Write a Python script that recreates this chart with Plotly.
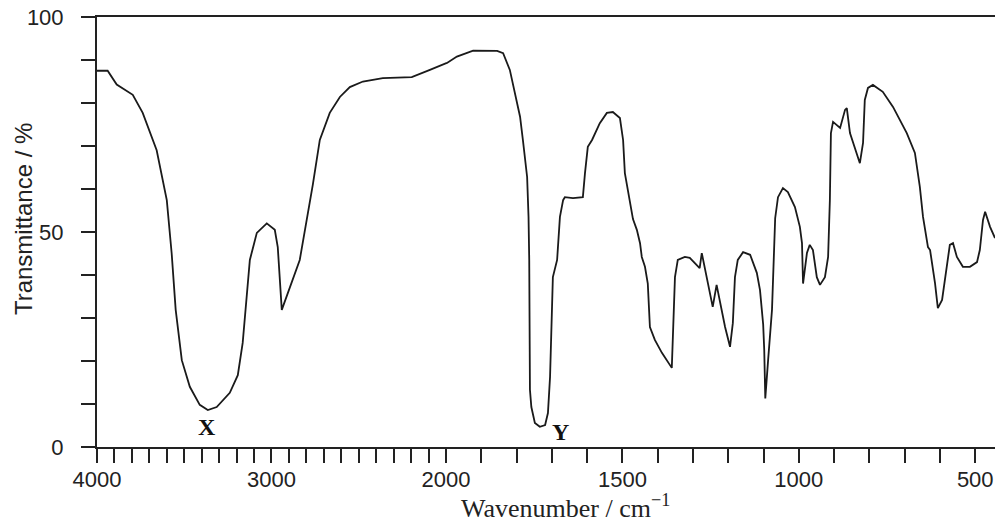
import plotly.graph_objects as go

# ---- data ----
wavenumber = [4000, 3939, 3887, 3795, 3738, 3658, 3600, 3572, 3549, 3514, 3468, 3411, 3365, 3314, 3239,
              3193, 3165, 3142, 3124, 3084, 3027, 2981, 2964, 2941, 2878, 2838, 2763, 2723, 2666,
              2608, 2551, 2476, 2362, 2196, 2092, 1997, 1969, 1923, 1855, 1838, 1819, 1804, 1790,
              1782, 1770, 1766, 1764, 1762, 1758, 1748, 1734, 1719, 1711, 1705, 1703, 1700, 1697,
              1685, 1677, 1668, 1663, 1640, 1612, 1606, 1598, 1586, 1564, 1544, 1527, 1507, 1498,
              1493, 1479, 1470, 1459, 1450, 1445, 1436, 1428, 1422, 1408, 1388, 1360, 1357, 1351,
              1343, 1323, 1309, 1281, 1275, 1261, 1244, 1233, 1223, 1209, 1195, 1187, 1181, 1173,
              1158, 1138, 1119, 1110, 1101, 1098, 1095, 1090, 1087, 1076, 1073, 1067, 1059, 1045,
              1031, 1011, 997, 991, 988, 983, 977, 969, 960, 949, 940, 926, 917, 912, 909, 903,
              883, 869, 864, 855, 827, 818, 813, 804, 790, 762, 733, 694, 671, 657, 648, 634, 628,
              614, 606, 594, 580, 572, 563, 552, 535, 515, 495, 487, 478, 472, 458, 444]
transmittance = [87.5, 87.5, 84.3, 81.9, 77.7, 69, 57.4, 45, 31.9, 20.2, 14, 9.8, 8.6, 9.3, 12.6,
                 16.7, 24.2, 35.8, 43.5, 49.8, 52, 50.5, 46.5, 31.9, 38.8, 43.5, 61, 71.4, 77.7,
                 81.4, 83.7, 85, 85.8, 86, 87.7, 89.3, 90.8, 92.2, 92.1, 91.6, 87.7, 82.3, 76.8,
                 71.4, 62.8, 53.5, 43.5, 13.3, 9.3, 5.6, 4.7, 5.1, 7.9, 16.3, 24.2, 31.9, 39.5,
                 43.5, 53.5, 57.4, 58.1, 57.9, 58.1, 63.7, 69.8, 71.4, 75.3, 77.7, 77.9, 76.5, 71.4,
                 63.7, 57.4, 53, 50.5, 47.4, 44.2, 41.9, 38, 27.9, 24.9, 21.9, 18.4, 26.5, 39.5,
                 43.5, 44.2, 44, 41.6, 45.1, 39.5, 32.6, 37.7, 33.5, 27.9, 23.3, 28.8, 39.5, 43.5,
                 45.3, 44.7, 40.5, 36.5, 28.5, 22.6, 11.3, 17.9, 20.2, 31.9, 38, 53.2, 58.1, 60.2,
                 59.3, 55.8, 51.2, 47.4, 38, 41.9, 45.1, 47, 45.8, 39.5, 37.7, 39.5, 44.2, 57.4, 73, 75.6,
                 74.2, 78.4, 78.8, 73, 66, 70.7, 80.7, 83.5, 84.2, 82.6, 79.1, 73, 68.4, 60.5, 53.5, 46.5, 45.8,
                 38.1, 32.3, 34.2, 41.9, 47, 47.4, 44.2, 41.9, 41.9, 43, 45.8, 52.8, 54.7, 51.2, 48.6]

# peak labels
peak_labels = ["X", "Y"]
peak_wavenumbers = [3371, 1674]
peak_transmittance = [4.7, 3.5]

# axis ticks
x_ticks_high = list(range(4000, 1999, -100))
x_ticks_low = list(range(2000, 499, -100))
x_label_high = {4000: "4000", 3000: "3000", 2000: "2000"}
x_label_low = {1500: "1500", 1000: "1000", 500: "500"}
y_ticks = list(range(0, 101, 10))
y_label = {0: "0", 50: "50", 100: "100"}

# ---- figure ----
split = 0.3886
line_col = "#1a1a1a"

hi_w = [w for w in wavenumber if w >= 1969]
hi_t = [t for w, t in zip(wavenumber, transmittance) if w >= 1969]
lo_w = [w for w in wavenumber if w <= 2092]
lo_t = [t for w, t in zip(wavenumber, transmittance) if w <= 2092]

fig = go.Figure()
fig.add_trace(go.Scatter(x=hi_w, y=hi_t, mode="lines", xaxis="x", yaxis="y",
                         line=dict(color=line_col, width=1.8), showlegend=False,
                         hoverinfo="x+y"))
fig.add_trace(go.Scatter(x=lo_w, y=lo_t, mode="lines", xaxis="x2", yaxis="y",
                         line=dict(color=line_col, width=1.8), showlegend=False,
                         hoverinfo="x+y"))

tickfont = dict(family="Liberation Sans, Arial, sans-serif", size=22, color="#222")

axis_common = dict(showline=True, linecolor="#222", linewidth=2, mirror=True,
                   ticks="outside", ticklen=14, tickwidth=2, tickcolor="#222",
                   showgrid=False, zeroline=False, tickfont=tickfont,
                   ticklabelstandoff=-2, ticklabeloverflow="allow",
                   fixedrange=True, automargin=False)

fig.update_layout(
    width=995, height=523,
    margin=dict(l=97, r=0, t=17, b=76, autoexpand=False),
    paper_bgcolor="white", plot_bgcolor="white",
    xaxis=dict(domain=[0, split], range=[4000, 2000], anchor="y",
               tickmode="array", tickvals=x_ticks_high,
               ticktext=[x_label_high.get(v, "") for v in x_ticks_high], **axis_common),
    xaxis2=dict(domain=[split, 1], range=[2000, 444], anchor="y",
                tickmode="array", tickvals=x_ticks_low,
                ticktext=[x_label_low.get(v, "") for v in x_ticks_low], **axis_common),
    yaxis=dict(range=[0, 100], anchor="x", showline=True, linecolor="#222", linewidth=2,
               ticks="outside", ticklen=14, tickwidth=2, tickcolor="#222",
               showgrid=False, zeroline=False, tickfont=tickfont,
               tickmode="array", tickvals=y_ticks,
               ticktext=[y_label.get(v, "") for v in y_ticks],
               ticklabelstandoff=13, ticklabeloverflow="allow",
               fixedrange=True, automargin=False),
)

# axis titles
fig.add_annotation(text="Wavenumber / cm<sup>−1</sup>", xref="paper", yref="paper",
                   x=0.522, y=-0.138, showarrow=False, xanchor="center", yanchor="middle",
                   font=dict(family="Liberation Serif, Times New Roman, serif", size=26, color="#222"))
fig.add_annotation(text="Transmittance / %", xref="paper", yref="paper",
                   x=-0.0824, y=0.53, showarrow=False, textangle=-90,
                   xanchor="center", yanchor="middle",
                   font=dict(family="Liberation Sans, Arial, sans-serif", size=24, color="#222"))

# peak labels
for lab, w, t, xr in zip(peak_labels, peak_wavenumbers, peak_transmittance, ["x", "x2"]):
    fig.add_annotation(text="<b>%s</b>" % lab, x=w, y=t, xref=xr, yref="y", showarrow=False,
                       font=dict(family="Liberation Serif, Times New Roman, serif", size=24, color="#111"))

# remove the default page margin so the 995x523 figure fills the window exactly
fig.write_html("out.html", config={"displayModeBar": False},
               post_script="document.body.style.margin='0';document.body.style.overflow='hidden';")
